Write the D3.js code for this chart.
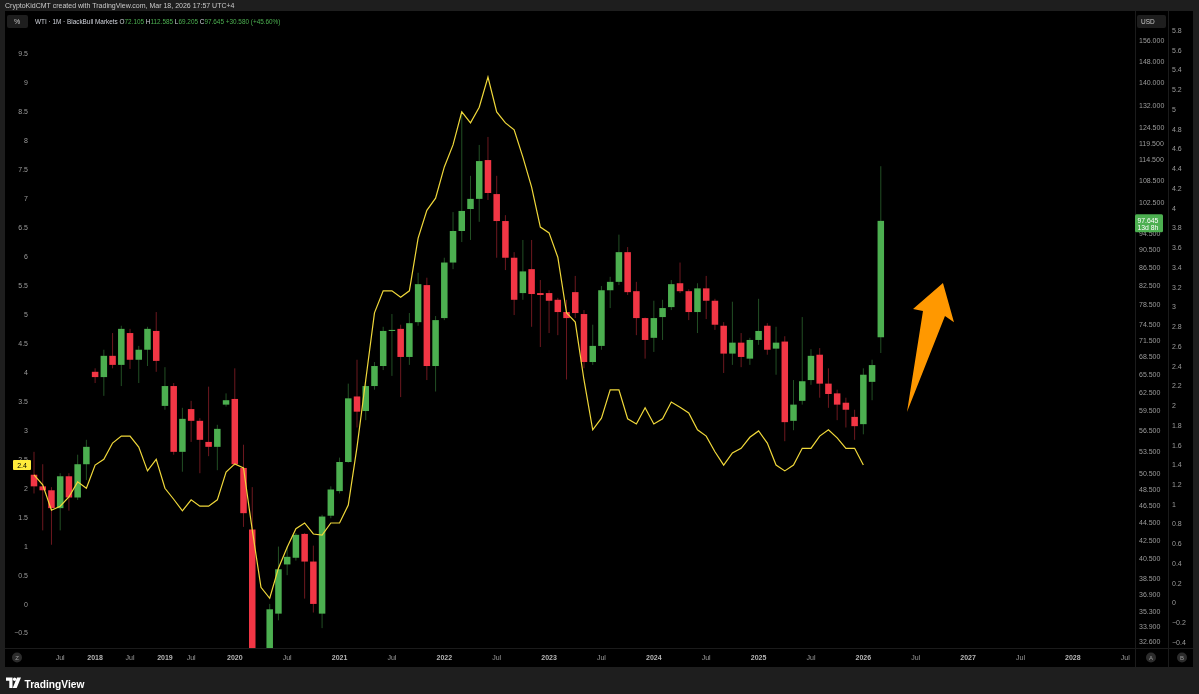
<!DOCTYPE html>
<html><head><meta charset="utf-8">
<script src="https://cdn.jsdelivr.net/npm/d3@7"></script>
<style>
html,body{margin:0;padding:0;background:#1e1e1e;overflow:hidden;}
svg{display:block;font-family:"Liberation Sans",Arial,sans-serif;will-change:transform;-webkit-font-smoothing:antialiased;}
</style></head><body>
<svg id="c" width="1199" height="694"></svg>
<script>
// ---- DATA (monthly WTI candles, bar index order) ----
const opens  = [50.4,48.9,48.4,46.2,50.2,47.5,51.8,65.9,65.0,68.7,67.1,72.9,68.0,69.8,73.3,60.3,63.5,53.5,59.8,58.0,54.9,54.2,60.5,61.4,51.3,43.7,20.5,18.8,35.1,39.9,40.6,43.2,40.2,35.1,45.3,48.3,52.1,61.8,59.5,63.5,66.9,73.3,73.7,68.5,75.0,82.6,66.9,75.8,87.6,95.1,100.7,103.4,114.4,104.7,97.6,88.7,80.9,86.1,80.9,80.9,79.5,77.0,81.1,76.6,67.6,70.5,81.5,83.3,90.0,81.3,75.8,72.0,76.0,78.0,83.0,81.3,77.0,81.9,79.3,74.3,69.1,71.1,68.2,71.6,74.3,70.0,71.3,58.0,61.1,64.5,68.9,63.9,62.3,60.8,58.6,57.5,64.2,72.105];
const highs  = [53.5,51.8,48.8,50.6,50.6,53.1,55.2,66.5,69.8,72.9,74.3,73.7,70.5,74.1,77.0,66.7,64.0,60.0,61.1,58.4,63.4,57.4,62.3,66.5,54.5,48.8,29.0,36.0,41.8,41.8,43.3,43.3,41.9,45.4,48.9,52.7,63.9,68.0,64.5,67.6,74.1,76.6,74.5,76.8,85.3,84.2,76.2,88.7,99.9,130.0,109.8,119.0,121.5,109.8,99.1,90.0,92.9,92.9,83.7,81.5,79.9,79.5,84.6,77.4,74.5,82.4,84.4,94.2,91.2,83.3,75.9,79.3,79.5,83.7,87.6,81.7,83.0,84.6,79.7,75.0,79.1,72.9,72.0,79.7,74.8,74.1,72.3,64.5,76.0,69.9,70.1,66.5,62.9,61.6,59.7,66.5,68.0,112.585];
const lows   = [48.0,43.6,42.0,43.6,45.9,47.2,49.7,64.0,61.9,66.5,63.5,66.4,64.0,66.9,65.9,59.7,53.1,50.8,54.9,50.6,52.9,51.0,60.2,51.6,44.0,20.0,6.5,16.0,34.5,38.8,40.3,36.5,35.2,33.8,45.0,48.0,52.0,57.0,58.1,62.9,66.2,65.2,61.7,67.1,74.3,64.5,62.6,75.4,86.1,92.4,92.9,97.4,103.1,88.7,85.9,76.4,79.5,74.1,70.3,72.9,72.5,64.6,75.8,66.5,67.1,69.8,77.8,82.6,80.5,72.5,68.2,69.4,71.6,77.4,80.9,75.4,72.9,75.6,73.5,65.7,67.1,66.7,67.1,70.7,68.9,65.4,55.0,56.6,60.5,63.7,61.6,60.0,58.1,57.0,55.2,56.0,61.2,69.205];
const closes = [48.9,48.4,46.2,50.2,47.5,51.8,54.2,65.0,68.7,67.1,73.7,68.0,69.8,73.7,67.8,63.5,53.5,58.3,58.0,55.2,54.2,56.8,61.2,51.8,45.6,20.5,18.8,35.5,39.4,40.7,43.1,40.2,36.0,45.2,48.5,52.1,61.5,59.4,63.5,66.9,73.3,73.5,68.5,74.8,82.8,66.9,75.4,87.6,95.1,100.2,103.4,114.1,105.0,97.6,88.7,79.5,85.6,80.7,80.5,79.3,77.0,75.8,76.8,67.6,70.5,81.5,83.3,90.0,81.1,75.8,71.6,75.8,77.8,82.8,81.3,77.0,81.9,79.3,74.5,69.1,71.1,68.5,71.6,73.3,69.8,71.1,57.8,60.5,64.3,68.7,63.9,62.2,60.5,59.7,57.2,65.4,67.065,97.645];
// yellow indicator line (left % scale), one value per bar
const ratio  = [2.23,2.06,1.62,1.69,1.85,2.11,2.00,2.40,2.50,2.78,2.90,2.90,2.71,2.30,2.50,2.00,1.81,1.61,1.80,1.69,1.69,1.80,2.28,2.42,2.35,1.28,0.29,0.10,0.62,0.98,1.30,1.40,1.21,1.19,1.40,1.40,1.71,2.71,3.87,5.03,5.41,5.41,5.30,5.41,6.32,6.80,7.01,7.55,7.93,8.50,8.31,8.58,9.10,8.50,8.31,8.19,7.72,7.20,6.51,6.41,5.99,5.03,4.87,3.87,3.01,3.21,3.70,3.70,3.20,3.11,3.39,3.11,3.20,3.49,3.40,3.30,3.01,2.90,2.63,2.40,2.61,2.69,2.88,2.99,2.78,2.40,2.30,2.40,2.69,2.69,2.90,3.01,2.87,2.69,2.69,2.40];
// time axis labels at bar indices
const xTickIndex  = [3,7,11,15,18,23,29,35,41,47,53,59,65,71,77,83,89,95,101,107,113,119,125];
const xTickLabels = ["Jul","2018","Jul","2019","Jul","2020","Jul","2021","Jul","2022","Jul","2023","Jul","2024","Jul","2025","Jul","2026","Jul","2027","Jul","2028","Jul"];
const leftTicks  = [-0.5,0,0.5,1,1.5,2,2.5,3,3.5,4,4.5,5,5.5,6,6.5,7,7.5,8,8.5,9,9.5];
const priceTicks = [156,148,140,132,124.5,119.5,114.5,108.5,102.5,94.5,90.5,86.5,82.5,78.5,74.5,71.5,68.5,65.5,62.5,59.5,56.5,53.5,50.5,48.5,46.5,44.5,42.5,40.5,38.5,36.9,35.3,33.9,32.6];
const bTicks = [-0.4,-0.2,0,0.2,0.4,0.6,0.8,1,1.2,1.4,1.6,1.8,2,2.2,2.4,2.6,2.8,3,3.2,3.4,3.6,3.8,4,4.2,4.4,4.6,4.8,5,5.2,5.4,5.6,5.8];
// annotation arrow in (bar index, price)
const arrowIdx   = [100.0,101.83,100.69,104.12,105.38,104.35];
const arrowPrice = [59.35,77.2,77.6,83.05,75.0,76.2];
const lastRatio = 2.4;
const countdown = "13d 8h";

// ---- DRAW ----
const svg = d3.select("#c");
const GREEN="#4caf50", RED="#f23645", AX="#9b9b9b";
const x  = d3.scaleLinear().domain([0,119]).range([34, 34+119*8.73]);
const yP = d3.scaleLog().domain([32.6,156]).range([642,41]);
const yL = d3.scaleLinear().domain([-0.5,9.5]).range([633,54]);
const yB = d3.scaleLinear().domain([-0.4,5.8]).range([642.5,30.5]);

// frame
svg.append("rect").attr("width",1199).attr("height",694).attr("fill","#1e1e1e");
svg.append("rect").attr("x",5).attr("y",11).attr("width",1188).attr("height",656).attr("fill","#000");
svg.append("text").attr("x",5).attr("y",8).attr("font-size",7).attr("fill","#c9c9c9")
  .text("CryptoKidCMT created with TradingView.com, Mar 18, 2026 17:57 UTC+4");

// separators
svg.append("line").attr("x1",1135.5).attr("x2",1135.5).attr("y1",11).attr("y2",667).attr("stroke","#1b1b1b");
svg.append("line").attr("x1",1168.5).attr("x2",1168.5).attr("y1",11).attr("y2",667).attr("stroke","#1b1b1b");
svg.append("line").attr("x1",5).attr("x2",1193).attr("y1",648.5).attr("y2",648.5).attr("stroke","#1b1b1b");

// clip
svg.append("clipPath").attr("id","plot").append("rect").attr("x",30).attr("y",11).attr("width",1105).attr("height",637);
const g = svg.append("g").attr("clip-path","url(#plot)");

const bars = d3.range(closes.length).map(i=>({i,o:opens[i],h:highs[i],l:lows[i],c:closes[i]}));
const bw = 6.5;
g.selectAll("line.wick").data(bars).join("line").attr("class","wick")
  .attr("x1",d=>x(d.i)).attr("x2",d=>x(d.i))
  .attr("y1",d=>yP(d.h)).attr("y2",d=>yP(d.l))
  .attr("stroke",d=>d.c>=d.o?GREEN:RED).attr("stroke-opacity",0.45).attr("stroke-width",1);
g.selectAll("rect.body").data(bars).join("rect").attr("class","body")
  .attr("x",d=>x(d.i)-bw/2).attr("width",bw)
  .attr("y",d=>yP(Math.max(d.o,d.c)))
  .attr("height",d=>Math.max(1,yP(Math.min(d.o,d.c))-yP(Math.max(d.o,d.c))))
  .attr("fill",d=>d.c>=d.o?GREEN:RED);

g.append("path").datum(ratio)
  .attr("d",d3.line().x((d,i)=>x(i)).y(d=>yL(d)))
  .attr("fill","none").attr("stroke","#f0d83a").attr("stroke-width",1.2);

// arrow
const arrowPts = arrowIdx.map((v,k)=>[x(v),yP(arrowPrice[k])]);
svg.append("polygon").attr("points",arrowPts.map(p=>p.join(",")).join(" ")).attr("fill","#ff9800");

// left axis
svg.append("g").selectAll("text").data(leftTicks).join("text")
  .attr("x",28).attr("y",d=>yL(d)).attr("dy","0.35em").attr("text-anchor","end")
  .attr("font-size",7).attr("fill",AX)
  .text(d=>(d<0?"\u2212":"")+Math.abs(d));

// right axis A (price)
svg.append("g").selectAll("text").data(priceTicks).join("text")
  .attr("x",1139).attr("y",d=>yP(d)).attr("dy","0.35em")
  .attr("font-size",7).attr("fill",AX).text(d=>d3.format(".3f")(d));
// right axis B
svg.append("g").selectAll("text").data(bTicks).join("text")
  .attr("x",1172).attr("y",d=>yB(d)).attr("dy","0.35em")
  .attr("font-size",7).attr("fill",AX)
  .text(d=>(d<0?"\u2212":"")+Math.abs(+d.toFixed(1)));

// time axis
svg.append("g").selectAll("text").data(xTickIndex).join("text")
  .attr("x",d=>x(d)).attr("y",660).attr("text-anchor","middle")
  .attr("font-size",7).attr("font-weight",(d,k)=>xTickLabels[k]==="Jul"?400:700)
  .attr("fill",(d,k)=>xTickLabels[k]==="Jul"?AX:"#b5b5b5")
  .text((d,k)=>xTickLabels[k]);

// axis buttons
[[17,"Z"],[1151,"A"],[1182,"B"]].forEach(([cx,t])=>{
  svg.append("circle").attr("cx",cx).attr("cy",657.5).attr("r",5).attr("fill","#2c2c2c");
  svg.append("text").attr("x",cx).attr("y",660).attr("text-anchor","middle").attr("font-size",6).attr("fill","#9a9a9a").text(t);
});

// header
svg.append("rect").attr("x",7).attr("y",15).attr("width",21).attr("height",13).attr("rx",2).attr("fill","#1e1e1e");
svg.append("text").attr("x",14).attr("y",24).attr("font-size",7).attr("fill","#c8c8c8").text("%");
const hd = svg.append("text").attr("x",35).attr("y",23.5).attr("font-size",6.4).attr("fill","#d1d4dc");
const last = closes.length-1, prev = closes[last-1];
const chg = closes[last]-prev;
hd.append("tspan").text("WTI \u00b7 1M \u00b7 BlackBull Markets  ");
[["O",opens[last]],["H",highs[last]],["L",lows[last]],["C",closes[last]]].forEach(([k,v])=>{
  hd.append("tspan").attr("fill","#d1d4dc").text(" "+k);
  hd.append("tspan").attr("fill",GREEN).text(d3.format(".3f")(v));
});
hd.append("tspan").attr("fill",GREEN).text("  +"+d3.format(".3f")(chg)+" (+"+d3.format(".2f")(chg/prev*100)+"%)");

svg.append("rect").attr("x",1137).attr("y",15).attr("width",29).attr("height",13).attr("rx",2).attr("fill","#1e1e1e");
svg.append("text").attr("x",1141).attr("y",24).attr("font-size",6.5).attr("fill","#c8c8c8").text("USD");

// price tag
const yc = yP(closes[last]);
svg.append("rect").attr("x",1135).attr("y",yc-6.5).attr("width",28).attr("height",18).attr("rx",1.5).attr("fill",GREEN);
svg.append("text").attr("x",1137.5).attr("y",yc+2.5).attr("font-size",6.8).attr("fill","#fff").text(d3.format(".3f")(closes[last]));
svg.append("text").attr("x",1137.5).attr("y",yc+9.5).attr("font-size",6.8).attr("fill","#fff").text(countdown);

// yellow tag
const yr = yL(lastRatio);
svg.append("rect").attr("x",13).attr("y",yr-5).attr("width",18).attr("height",10).attr("rx",1).attr("fill","#ffeb3b");
svg.append("text").attr("x",22).attr("y",yr+2.5).attr("text-anchor","middle").attr("font-size",7).attr("fill","#000").text(String(lastRatio));

// TradingView logo
const lg = svg.append("g").attr("fill","#fff");
lg.append("path").attr("d","M6,677.5 h6.5 v10.5 h-3.2 v-7.3 h-3.3 z");
lg.append("circle").attr("cx",14.6).attr("cy",679.3).attr("r",1.7);
lg.append("path").attr("d","M17,677.5 h4 l-4.3,10.5 h-4 z");
svg.append("text").attr("x",24.5).attr("y",687.5).attr("font-size",10.2).attr("font-weight",700).attr("fill","#fff").text("TradingView");
</script>
</body></html>
